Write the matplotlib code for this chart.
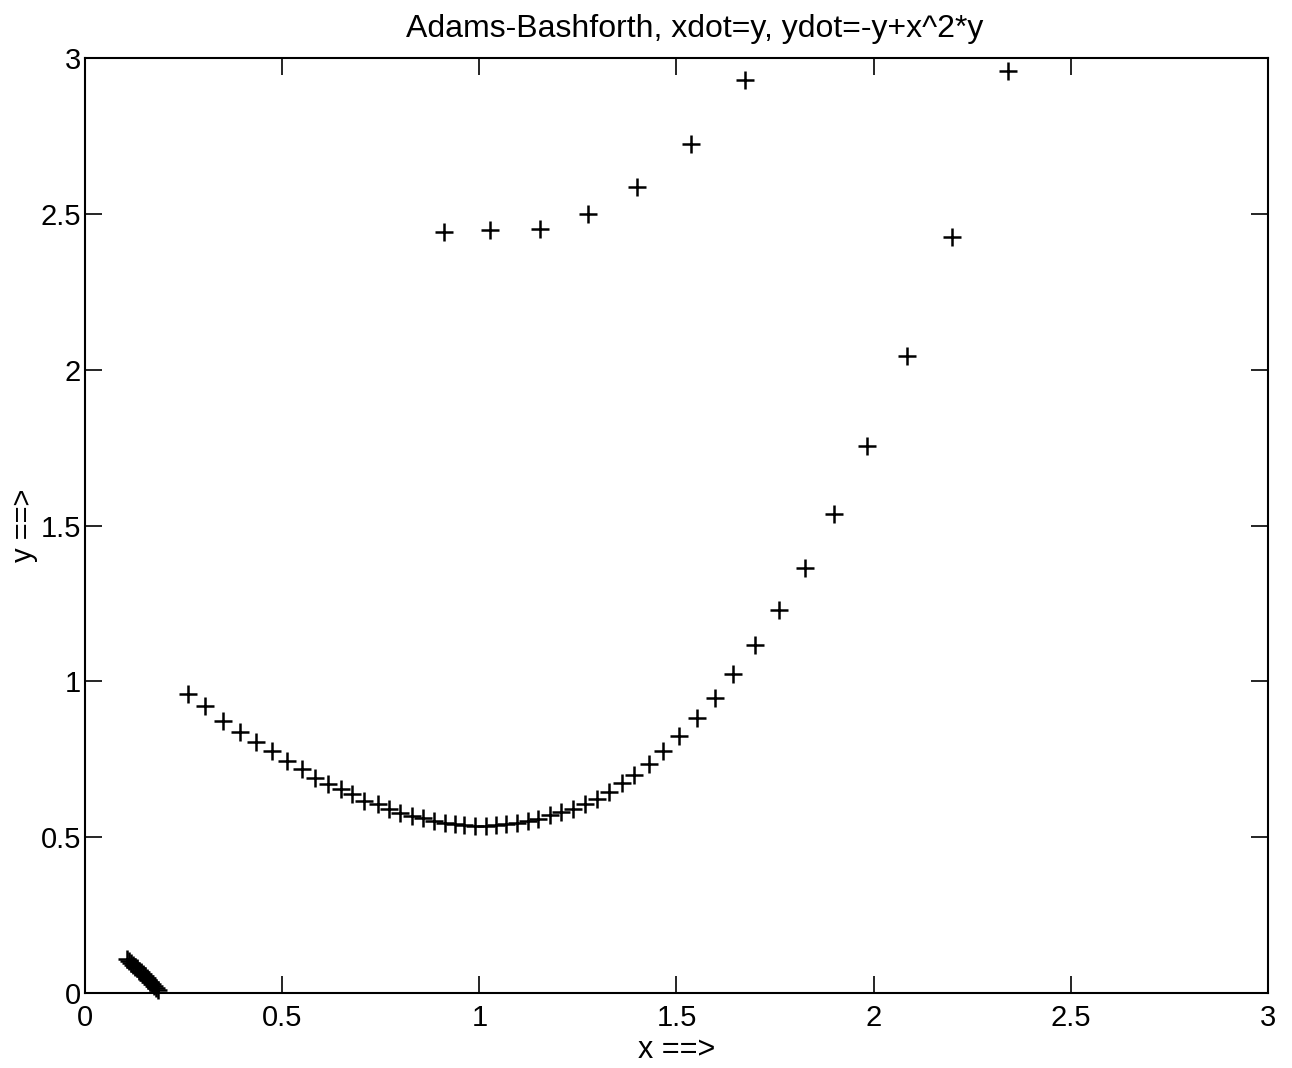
import numpy as np
import matplotlib.pyplot as plt

plt.rcParams['font.family'] = ['Liberation Sans', 'DejaVu Sans']

# main trajectory (lower curve rising to the upper right)
x_main = [0.262, 0.304, 0.351, 0.393, 0.434, 0.473, 0.512, 0.550, 0.583, 0.616,
          0.649, 0.678, 0.708, 0.742, 0.772, 0.799, 0.829, 0.856, 0.886, 0.913,
          0.938, 0.962, 0.989, 1.016, 1.042, 1.068, 1.096, 1.123, 1.150, 1.179,
          1.206, 1.238, 1.268, 1.298, 1.330, 1.361, 1.392, 1.431, 1.467, 1.506,
          1.552, 1.598, 1.643, 1.699, 1.760, 1.827, 1.900, 1.983, 2.085, 2.198,
          2.340]
y_main = [0.959, 0.920, 0.874, 0.839, 0.805, 0.775, 0.745, 0.718, 0.691, 0.672,
          0.656, 0.638, 0.617, 0.605, 0.590, 0.579, 0.569, 0.561, 0.553, 0.547,
          0.542, 0.539, 0.537, 0.537, 0.540, 0.543, 0.547, 0.551, 0.558, 0.571,
          0.580, 0.592, 0.605, 0.621, 0.646, 0.673, 0.700, 0.734, 0.775, 0.826,
          0.881, 0.945, 1.023, 1.116, 1.228, 1.363, 1.537, 1.756, 2.045, 2.425,
          2.959]

# upper branch
x_upper = [0.910, 1.028, 1.153, 1.276, 1.399, 1.536, 1.675]
y_upper = [2.442, 2.447, 2.450, 2.498, 2.586, 2.723, 2.929]

# dense cluster near the origin
x_blob = [0.106, 0.111, 0.116, 0.121, 0.126, 0.131, 0.136, 0.141, 0.146, 0.151,
          0.156, 0.161, 0.166, 0.171, 0.176, 0.181, 0.185]
y_blob = [0.110, 0.104, 0.097, 0.091, 0.085, 0.079, 0.072, 0.066, 0.060, 0.054,
          0.047, 0.041, 0.035, 0.029, 0.022, 0.016, 0.011]

fig = plt.figure(figsize=(12.92, 10.68), dpi=100)
ax = fig.add_axes([0.0658, 0.0702, 0.9156, 0.8755])

mk = dict(marker='+', linestyle='none', color='black', markersize=13, markeredgewidth=1.8)
ax.plot(x_main, y_main, **mk)
ax.plot(x_upper, y_upper, **mk)
ax.plot(x_blob, y_blob, clip_on=False, **mk)

ax.set_xlim(0, 3)
ax.set_ylim(0, 3)
ax.set_xticks([0, 0.5, 1, 1.5, 2, 2.5, 3])
ax.set_xticklabels(['0', '0.5', '1', '1.5', '2', '2.5', '3'])
ax.set_yticks([0, 0.5, 1, 1.5, 2, 2.5, 3])
ax.set_yticklabels(['0', '0.5', '1', '1.5', '2', '2.5', '3'])
ax.tick_params(direction='in', length=12, width=1.2, labelsize=21,
               top=True, right=True)
ax.tick_params(axis='x', pad=8)
ax.tick_params(axis='y', pad=3)
for s in ax.spines.values():
    s.set_linewidth(1.5)

ax.set_title('Adams-Bashforth, xdot=y, ydot=-y+x^2*y', fontsize=23, pad=15, x=0.515)
ax.set_xlabel('x ==>', fontsize=22, labelpad=2)
ax.set_ylabel('y ==>', fontsize=21, labelpad=2)

plt.savefig('out.png', dpi=100)
